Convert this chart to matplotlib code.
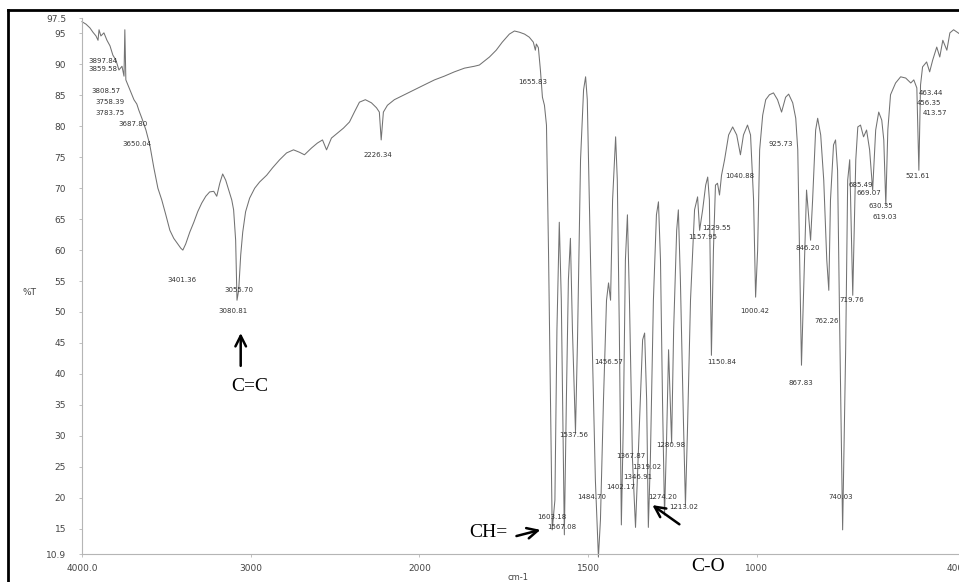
import numpy as np
import matplotlib
matplotlib.use("Agg")
import matplotlib.pyplot as plt
from matplotlib.lines import Line2D

# ---------------- data ----------------
wavenumber = [
    4000, 3976, 3953, 3935, 3917, 3905, 3899, 3888, 3870, 3852, 3834, 3817, 3799, 3781, 3763,
    3751, 3746, 3740, 3728, 3710, 3692, 3675, 3663, 3645, 3621, 3598, 3574, 3550, 3527, 3503,
    3479, 3456, 3432, 3414, 3402, 3385, 3361, 3337, 3314, 3290, 3266, 3243, 3219, 3201, 3183,
    3166, 3148, 3130, 3112, 3101, 3089, 3081, 3071, 3059, 3047, 3030, 3006, 2976, 2947, 2905,
    2870, 2828, 2787, 2746, 2710, 2681, 2639, 2604, 2574, 2550, 2521, 2485, 2450, 2414, 2385,
    2355, 2320, 2284, 2254, 2237, 2226, 2213, 2189, 2148, 2089, 2030,
    1985, 1955, 1926, 1896, 1866, 1837, 1822, 1792, 1772, 1754, 1733, 1718, 1703, 1688, 1674,
    1662, 1656, 1653, 1647, 1641, 1635, 1629, 1623, 1617, 1606, 1598, 1592, 1585, 1579, 1570,
    1564, 1558, 1552, 1546, 1537, 1531, 1522, 1513, 1507, 1502, 1496, 1487, 1478, 1469, 1463,
    1454, 1445, 1439, 1433, 1427, 1418, 1413, 1407, 1401, 1395, 1389, 1383, 1377, 1368, 1359,
    1347, 1338, 1332, 1326, 1321, 1315, 1306, 1297, 1291, 1285, 1279, 1273, 1267, 1261, 1252,
    1246, 1237, 1232, 1226, 1217, 1211, 1205, 1196, 1184, 1175, 1169, 1160, 1151, 1145, 1140,
    1134, 1128, 1122, 1116, 1110, 1104, 1095, 1083, 1071, 1059, 1048, 1039, 1027, 1018, 1009,
    1003, 997, 991, 982, 973, 962, 950, 938, 926, 914, 905, 893, 884, 878, 873,
    867, 858, 852, 846, 840, 834, 825, 819, 810, 801, 792, 786, 781, 772, 766,
    760, 754, 745, 736, 730, 724, 715, 706, 700, 692, 683, 674, 665, 656, 647,
    638, 629, 623, 617, 611, 603, 588, 573, 558, 543, 534, 525, 519, 514, 508,
    496, 487, 478, 466, 457, 448, 436, 427, 416, 400,
]
transmittance = [
    96.9, 96.5, 95.9, 95.2, 94.6, 93.9, 95.6, 94.6, 95.1, 93.9, 93.0, 91.5, 90.7, 89.1, 89.7,
    88.1, 95.6, 87.5, 86.7, 85.5, 84.3, 83.6, 82.6, 81.3, 79.4, 77.0, 73.3, 70.0, 68.1, 65.7,
    63.2, 61.9, 61.0, 60.3, 60.0, 61.0, 62.9, 64.5, 66.2, 67.6, 68.7, 69.4, 69.5, 68.7, 70.8,
    72.3, 71.3, 69.7, 68.1, 66.5, 61.6, 51.9, 53.5, 59.2, 62.9, 66.2, 68.4, 70.0, 71.0, 72.1,
    73.3, 74.6, 75.7, 76.2, 75.8, 75.4, 76.5, 77.3, 77.8, 76.2, 78.1, 78.9, 79.7, 80.7, 82.3,
    83.9, 84.3, 83.8, 83.0, 82.3, 77.8, 82.3, 83.4, 84.3, 85.1, 85.9,
    86.7, 87.5, 88.1, 88.8, 89.4, 89.7, 89.9, 91.2, 92.3, 93.6, 94.9, 95.4, 95.2, 94.9, 94.4,
    93.6, 92.3, 93.3, 92.7, 89.1, 84.7, 83.4, 80.2, 60.0, 14.8, 19.6, 47.1, 64.5, 51.9, 14.0,
    35.8, 55.2, 61.9, 47.1, 30.6, 45.5, 74.6, 85.9, 88.0, 84.3, 68.1, 43.9, 22.8, 10.4, 16.4,
    35.8, 51.9, 54.7, 51.9, 68.1, 78.3, 71.3, 47.1, 15.6, 32.5, 58.4, 65.7, 51.9, 26.1, 15.2,
    32.5, 45.5, 46.6, 35.8, 15.2, 26.1, 51.9, 65.7, 67.8, 58.4, 35.8, 17.2, 29.3, 43.9, 28.8,
    47.1, 63.2, 66.5, 55.2, 32.5, 18.8, 30.9, 51.9, 66.5, 68.6, 63.2, 66.5, 70.5, 71.8, 68.1,
    43.0, 60.0, 70.5, 70.8, 68.9, 72.1, 74.6, 78.6, 79.9, 78.6, 75.4, 78.6, 80.2, 78.6, 68.1,
    52.4, 60.0, 76.2, 81.8, 84.3, 85.1, 85.4, 84.3, 82.3, 84.7, 85.2, 83.8, 81.3, 76.2, 60.0,
    41.4, 58.4, 69.7, 65.7, 61.6, 68.1, 79.4, 81.3, 78.6, 71.3, 58.4, 53.5, 68.1, 77.0, 77.8,
    72.9, 48.7, 14.8, 43.9, 71.3, 74.6, 52.7, 74.6, 79.9, 80.2, 78.3, 79.4, 76.2, 69.7, 79.4,
    82.3, 81.0, 77.8, 67.3, 79.4, 85.1, 87.0, 88.0, 87.8, 87.0, 87.5, 86.2, 72.9, 86.7, 89.6,
    90.4, 88.8, 90.7, 92.8, 91.2, 93.9, 92.3, 95.1, 95.6, 95.0,
]

peak_labels = [
    "3897.84", "3859.58", "3808.57", "3758.39", "3783.75", "3687.80", "3650.04",
    "3401.36", "3055.70", "3080.81", "2226.34", "1655.83", "1603.18", "1567.08",
    "1537.56", "1456.57", "1484.70", "1402.17", "1367.87", "1346.91", "1319.02",
    "1280.98", "1274.20", "1213.02", "1229.55", "1157.95", "1150.84", "1040.88",
    "1000.42", "925.73", "867.83", "846.20", "762.26", "719.76", "740.03",
    "685.49", "669.07", "630.35", "619.03", "521.61", "463.44", "456.35", "413.57",
]
peak_label_x = [
    3876, 3876, 3858, 3834, 3834, 3698, 3675,
    3408, 3071, 3107, 2243, 1665, 1608, 1579,
    1543, 1439, 1490, 1404, 1374, 1353, 1326,
    1255, 1279, 1217, 1119, 1160, 1104, 1051,
    1006, 929, 870, 849, 792, 718, 751,
    692, 668, 632, 620, 522, 483, 490, 472,
]
peak_label_y = [
    90.6, 89.3, 85.7, 83.9, 82.1, 80.3, 77.1,
    55.2, 53.5, 50.2, 75.4, 87.2, 16.9, 15.2,
    30.1, 41.9, 20.1, 21.7, 26.7, 23.3, 24.9,
    28.5, 20.1, 18.5, 63.6, 62.1, 41.9, 72.0,
    50.2, 77.1, 38.5, 60.3, 48.5, 51.9, 20.1,
    70.5, 69.2, 67.1, 65.3, 72.0, 85.4, 83.8, 82.1,
]

x_ticks = [4000, 3000, 2000, 1500, 1000, 400]
x_tick_labels = ["4000.0", "3000", "2000", "1500", "1000", "400.0"]
y_ticks = [10.9, 15, 20, 25, 30, 35, 40, 45, 50, 55, 60, 65, 70, 75, 80, 85, 90, 95, 97.5]
y_tick_labels = ["10.9", "15", "20", "25", "30", "35", "40", "45", "50", "55", "60",
                 "65", "70", "75", "80", "85", "90", "95", "97.5"]

# group annotations: text, text position, arrow tail, arrow head
group_text = ["C=C", "CH=", "C-O"]
group_text_x = [3006, 1795, 1145]
group_text_y = [37.9, 14.3, 8.9]
arrow_tail_x = [3059, 1712, 1229]
arrow_tail_y = [41.3, 13.8, 15.7]
arrow_head_x = [3059, 1641, 1309]
arrow_head_y = [46.6, 14.8, 18.8]


# x scale: below 2000 cm-1 the spectrum is expanded by a factor of two
def fwd(w):
    w = np.asarray(w, dtype=float)
    return np.where(w >= 2000, w, 2 * w - 2000)


def inv(u):
    u = np.asarray(u, dtype=float)
    return np.where(u >= 2000, u, (u + 2000) / 2)


fig = plt.figure(figsize=(9.59, 5.82), dpi=100)
fig.patch.set_facecolor("white")
ax = fig.add_axes([82 / 959, 1 - 554 / 582, 877 / 959, 536 / 582])
ax.set_xscale("function", functions=(fwd, inv))

ax.plot(wavenumber, transmittance, color="#727272", lw=0.75, clip_on=False)

ax.set_xlim(4000, 400)
ax.set_ylim(10.9, 97.5)
ax.set_xticks(x_ticks)
ax.set_xticklabels(x_tick_labels)
ax.set_yticks(y_ticks)
ax.set_yticklabels(y_tick_labels)
ax.xaxis.set_minor_locator(matplotlib.ticker.NullLocator())
ax.yaxis.set_minor_locator(matplotlib.ticker.NullLocator())

for s in ("top", "right"):
    ax.spines[s].set_visible(False)
for s in ("left", "bottom"):
    ax.spines[s].set_color("#b5b5b5")
    ax.spines[s].set_linewidth(0.8)

ax.tick_params(axis="both", length=2.5, width=0.6, color="#b5b5b5",
               labelsize=6.5, labelcolor="#444444")
ax.tick_params(axis="y", pad=9)
ax.tick_params(axis="x", pad=5)

ax.set_ylabel("%T", rotation=0, fontsize=6.5, color="#444444")
ax.yaxis.set_label_coords(-0.06, 0.48)
ax.set_xlabel("cm-1", fontsize=6, color="#444444")
ax.xaxis.set_label_coords(0.497, -0.036)

for lab, lx, ly in zip(peak_labels, peak_label_x, peak_label_y):
    ax.text(lx, ly, lab, fontsize=5, color="#333333", ha="center", va="center")

for t, tx, ty, ax0, ay0, ax1, ay1 in zip(group_text, group_text_x, group_text_y,
                                         arrow_tail_x, arrow_tail_y,
                                         arrow_head_x, arrow_head_y):
    ax.text(tx, ty, t, fontsize=14, family="Liberation Serif", color="black",
            ha="center", va="center", clip_on=False)
    ax.annotate("", xy=(ax1, ay1), xytext=(ax0, ay0), annotation_clip=False,
                arrowprops=dict(arrowstyle="->", lw=1.8, color="black",
                                mutation_scale=19, shrinkA=0, shrinkB=0))

# outer frame of the scanned figure
fig.add_artist(Line2D([8 / 959, 8 / 959], [0, 1 - 10 / 582], transform=fig.transFigure,
                      color="black", lw=2))
fig.add_artist(Line2D([8 / 959, 1], [1 - 10 / 582, 1 - 10 / 582], transform=fig.transFigure,
                      color="black", lw=2))

fig.savefig("out.png", dpi=100)
